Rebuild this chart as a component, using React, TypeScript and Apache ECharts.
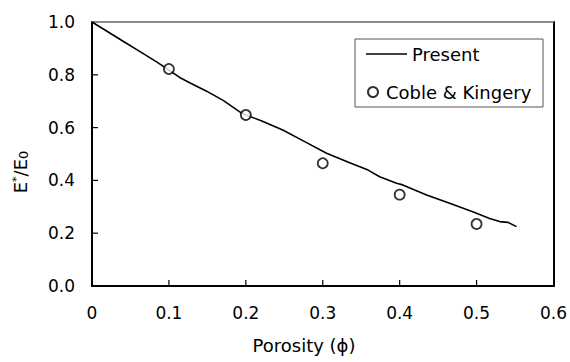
import React, { useEffect, useRef } from "react";
import * as echarts from "echarts";

// Model curve: normalised Young's modulus against porosity
const presentPorosity = [
  0, 0.02, 0.041, 0.063, 0.084, 0.1, 0.114, 0.127, 0.149, 0.171, 0.194, 0.2,
  0.22, 0.248, 0.279, 0.305, 0.335, 0.359, 0.374, 0.396, 0.404, 0.435, 0.465,
  0.495, 0.517, 0.53, 0.541, 0.552,
];
const presentModulus = [
  1.0, 0.964, 0.926, 0.887, 0.849, 0.818, 0.79, 0.77, 0.738, 0.702, 0.656,
  0.648, 0.626, 0.591, 0.543, 0.503, 0.467, 0.439, 0.414, 0.389, 0.383, 0.345,
  0.313, 0.281, 0.256, 0.244, 0.241, 0.225,
];

// Experimental points (Coble & Kingery)
const cobleKingeryPorosity = [0.1, 0.2, 0.3, 0.4, 0.5];
const cobleKingeryModulus = [0.822, 0.648, 0.465, 0.346, 0.235];

const xTicks = [0, 0.1, 0.2, 0.3, 0.4, 0.5, 0.6];
const yTicks = [0, 0.2, 0.4, 0.6, 0.8, 1.0];

const FONT = "DejaVu Sans";
const TICK_LEN = 6;

export default function App() {
  const ref = useRef<HTMLDivElement>(null);

  useEffect(() => {
    if (!ref.current) return;
    const chart = echarts.init(ref.current, null, { renderer: "svg" });

    const presentData = presentPorosity.map((x, i) => [x, presentModulus[i]]);
    const pointData = cobleKingeryPorosity.map((x, i) => [
      x,
      cobleKingeryModulus[i],
    ]);

    const xMin = xTicks[0];
    const xMax = xTicks[xTicks.length - 1];
    const yMin = yTicks[0];
    const yMax = yTicks[yTicks.length - 1];

    // Inward tick marks: [x, y, direction (0 = up from x axis, 1 = right from y axis)]
    const tickData = [
      ...xTicks.slice(1, -1).map((v) => [v, yMin, 0]),
      ...yTicks.slice(1, -1).map((v) => [xMin, v, 1]),
    ];

    chart.setOption({
      animation: false,
      backgroundColor: "#ffffff",
      grid: { left: 92, right: 16, top: 22, bottom: 76, show: false },
      xAxis: [
        {
          type: "value",
          min: xMin,
          max: xMax,
          interval: 0.1,
          position: "bottom",
          axisLine: { show: true, onZero: false, lineStyle: { color: "#000", width: 2 } },
          axisTick: { show: false },
          splitLine: { show: false },
          axisLabel: {
            margin: 18,
            fontFamily: FONT,
            fontSize: 17,
            color: "#000",
            formatter: (v: number) => (v === 0 ? "0" : v.toFixed(1)),
          },
        },
        {
          type: "value",
          min: xMin,
          max: xMax,
          position: "top",
          axisLine: { show: true, onZero: false, lineStyle: { color: "#666", width: 1.5 } },
          axisTick: { show: false },
          axisLabel: { show: false },
          splitLine: { show: false },
        },
      ],
      yAxis: [
        {
          type: "value",
          min: yMin,
          max: yMax,
          interval: 0.2,
          position: "left",
          axisLine: { show: true, onZero: false, lineStyle: { color: "#000", width: 2 } },
          axisTick: { show: false },
          splitLine: { show: false },
          axisLabel: {
            margin: 17,
            fontFamily: FONT,
            fontSize: 17,
            color: "#000",
            formatter: (v: number) => v.toFixed(1),
          },
        },
        {
          type: "value",
          min: yMin,
          max: yMax,
          position: "right",
          axisLine: { show: true, onZero: false, lineStyle: { color: "#000", width: 2 } },
          axisTick: { show: false },
          axisLabel: { show: false },
          splitLine: { show: false },
        },
      ],
      legend: [
        {
          data: ["Present"],
          left: 366,
          top: 44,
          icon: "rect",
          itemWidth: 41,
          itemHeight: 1.5,
          padding: 0,
          itemStyle: { color: "#000", borderWidth: 0 },
          textStyle: {
            fontFamily: FONT,
            fontSize: 18,
            color: "#000",
            lineHeight: 20,
          },
        },
        {
          data: ["Coble & Kingery"],
          left: 367,
          top: 82,
          itemWidth: 10,
          itemHeight: 10,
          padding: 0,
          icon: "circle",
          textStyle: {
            fontFamily: FONT,
            fontSize: 18,
            color: "#000",
            lineHeight: 20,
            padding: [0, 0, 0, 3],
          },
        },
      ],
      graphic: [
        {
          type: "rect",
          z: -1,
          shape: { x: 355, y: 39, width: 188, height: 68 },
          style: { fill: "#fff", stroke: "#555", lineWidth: 1 },
        },
        {
          type: "text",
          x: 304,
          y: 345,
          style: {
            text: "Porosity (\u03d5)",
            fontFamily: FONT,
            fontSize: 18,
            fill: "#000",
            align: "center",
            verticalAlign: "middle",
          },
        },
        {
          type: "text",
          x: 20,
          y: 172,
          rotation: Math.PI / 2,
          style: {
            text: "{m|E}{sup|*}{m|/E}{sub|0}",
            align: "center",
            verticalAlign: "middle",
            rich: {
              m: { fontFamily: FONT, fontSize: 18, fill: "#000" },
              sup: {
                fontFamily: FONT,
                fontSize: 11,
                fill: "#000",
                verticalAlign: "top",
                padding: [0, 0, 8, 0],
              },
              sub: {
                fontFamily: FONT,
                fontSize: 13,
                fill: "#000",
                padding: [6, 0, 0, 0],
              },
            },
          },
        },
      ],
      series: [
        {
          name: "ticks",
          type: "custom",
          data: tickData,
          silent: true,
          clip: false,
          renderItem: (_params: any, api: any) => {
            const p = api.coord([api.value(0), api.value(1)]);
            const up = api.value(2) === 0;
            return {
              type: "line",
              shape: {
                x1: p[0],
                y1: p[1],
                x2: up ? p[0] : p[0] + TICK_LEN,
                y2: up ? p[1] - TICK_LEN : p[1],
              },
              style: { stroke: "#000", lineWidth: 1.2, fill: null },
            };
          },
          z: 5,
        },
        {
          name: "Present",
          type: "line",
          data: presentData,
          symbol: "none",
          smooth: false,
          lineStyle: { color: "#000", width: 1.6 },
          itemStyle: { color: "#000" },
          z: 2,
        },
        {
          name: "Coble & Kingery",
          type: "scatter",
          data: pointData,
          symbol: "circle",
          symbolSize: 10,
          itemStyle: { color: "#fff", borderColor: "#000", borderWidth: 1.8 },
          z: 3,
        },
      ],
    });

    return () => chart.dispose();
  }, []);

  return (
    <div
      ref={ref}
      style={{ position: "fixed", left: 0, top: 0, width: 570, height: 362 }}
    />
  );
}
